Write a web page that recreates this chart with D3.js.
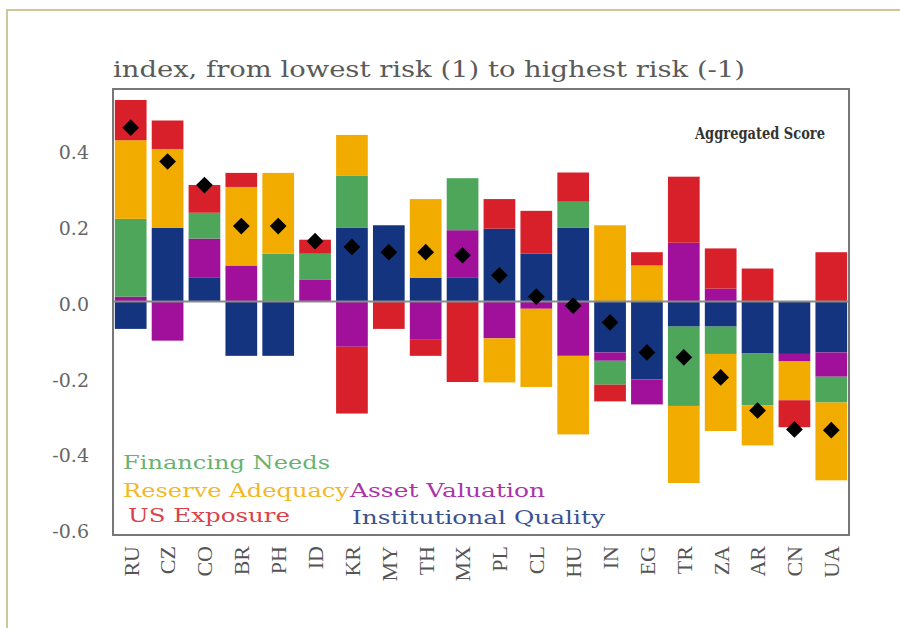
<!DOCTYPE html>
<meta charset="utf-8">
<style>
    body { margin: 0; background: #fff; }
    .tick text { font-family: "DejaVu Serif", serif; fill: #666; }
</style>
<svg width="900" height="628"></svg>
<script src="https://d3js.org/d3.v7.min.js"></script>
<script>

    var countries = ["RU", "CZ", "CO", "BR", "PH", "ID", "KR", "MY", "TH", "MX",
                     "PL", "CL", "HU", "IN", "EG", "TR", "ZA", "AR", "CN", "UA"];

    // component scores, same order as countries
    var institutionalQuality = [-0.072, 0.194, 0.064, -0.143, -0.143, 0, 0.194, 0.201, 0.063, 0.064,
                                0.192, 0.126, 0.194, -0.134, -0.205, -0.066, -0.066, -0.137, -0.138, -0.134];
    var assetValuation = [0.013, -0.103, 0.102, 0.095, 0, 0.057, -0.119, 0, -0.099, 0.124,
                          -0.097, -0.019, -0.143, -0.022, -0.066, 0.155, 0.034, 0, -0.020, -0.064];
    var financingNeeds = [0.205, 0, 0.068, 0, 0.126, 0.069, 0.137, 0, 0, 0.137,
                          0, 0, 0.069, -0.063, 0, -0.209, -0.072, -0.136, 0, -0.068];
    var reserveAdequacy = [0.207, 0.208, 0, 0.207, 0.213, 0, 0.108, 0, 0.207, 0,
                           -0.116, -0.206, -0.207, 0.201, 0.095, -0.203, -0.203, -0.106, -0.102, -0.205];
    var usExposure = [0.106, 0.075, 0.073, 0.037, 0, 0.037, -0.176, -0.072, -0.044, -0.212,
                      0.078, 0.113, 0.077, -0.044, 0.035, 0.174, 0.106, 0.087, -0.071, 0.130];
    var aggregatedScore = [0.458, 0.369, 0.307, 0.199, 0.199, 0.159, 0.144, 0.130, 0.130, 0.122,
                           0.069, 0.013, -0.011, -0.055, -0.134, -0.147, -0.200, -0.287, -0.337, -0.339];

    var yTicks = [0.4, 0.2, 0.0, -0.2, -0.4, -0.6];

    var keys = ["inst", "asset", "fin", "reserve", "us"];
    var colors = {inst: "#15347f", asset: "#a0109a", fin: "#4ea65a", reserve: "#f2ac00", us: "#d7202a"};

    var rows = countries.map(function (c, i) {
        return {
            country: c,
            inst: institutionalQuality[i],
            asset: assetValuation[i],
            fin: financingNeeds[i],
            reserve: reserveAdequacy[i],
            us: usExposure[i],
            score: aggregatedScore[i]
        };
    });

    var svg = d3.select("svg");
    var box = {left: 113, top: 89, right: 849, bottom: 535};

    // outer frame of the picture
    svg.append("path")
        .attr("d", "M7,628 V10 H900")
        .attr("fill", "none")
        .attr("stroke", "#cfc69a")
        .attr("stroke-width", 2);

    var x = d3.scaleBand()
        .domain(countries)
        .range([box.left, box.right])
        .paddingInner(0.14)
        .paddingOuter(0.05);

    var y = d3.scaleLinear()
        .domain([-0.615, 0.56])
        .range([box.bottom, box.top]);

    var series = d3.stack()
        .keys(keys)
        .offset(d3.stackOffsetDiverging)(rows);

    svg.append("g")
        .selectAll("g")
        .data(series)
        .enter().append("g")
        .attr("fill", function (d) { return colors[d.key]; })
        .selectAll("rect")
        .data(function (d) { return d; })
        .enter().append("rect")
        .attr("x", function (d) { return x(d.data.country); })
        .attr("width", x.bandwidth())
        .attr("y", function (d) { return y(Math.max(d[0], d[1])); })
        .attr("height", function (d) { return Math.abs(y(d[0]) - y(d[1])); });

    // zero line
    svg.append("line")
        .attr("x1", box.left).attr("x2", box.right)
        .attr("y1", y(0)).attr("y2", y(0))
        .attr("stroke", "#8a8a8a")
        .attr("stroke-width", 2);

    // plot frame
    svg.append("rect")
        .attr("x", box.left).attr("y", box.top)
        .attr("width", box.right - box.left)
        .attr("height", box.bottom - box.top)
        .attr("fill", "none")
        .attr("stroke", "#777")
        .attr("stroke-width", 2);

    // aggregated score diamonds
    svg.append("g")
        .selectAll("path")
        .data(rows)
        .enter().append("path")
        .attr("d", d3.symbol().type(d3.symbolSquare).size(140))
        .attr("transform", function (d) {
            return "translate(" + (x(d.country) + x.bandwidth() / 2) + "," + y(d.score) + ") rotate(45)";
        })
        .attr("fill", "#000");

    // y axis, plain hyphen for negatives like the original
    var yAxis = svg.append("g")
        .attr("transform", "translate(" + box.left + ",0)")
        .call(d3.axisLeft(y).tickValues(yTicks).tickSize(0).tickPadding(24)
            .tickFormat(function (d) { return d.toFixed(1); }));
    yAxis.select(".domain").remove();
    yAxis.selectAll("text")
        .style("font-size", "19px")
        .attr("dy", "0.45em");

    // x axis labels
    var xAxis = svg.append("g")
        .attr("transform", "translate(0," + box.bottom + ")")
        .call(d3.axisBottom(x).tickSize(0).tickPadding(0));
    xAxis.select(".domain").remove();
    xAxis.selectAll("text")
        .attr("transform", "rotate(-90)")
        .attr("x", -11)
        .attr("y", 0)
        .attr("dy", "0.36em")
        .style("text-anchor", "end")
        .style("font-family", "'Liberation Serif', serif")
        .style("font-size", "22px")
        .style("fill", "#555");

    // title
    svg.append("text")
        .attr("x", 113)
        .attr("y", 77)
        .attr("textLength", 632)
        .attr("lengthAdjust", "spacingAndGlyphs")
        .style("font-family", "'DejaVu Serif', serif")
        .style("font-size", "23px")
        .style("fill", "#5a5a5a")
        .text("index, from lowest risk (1) to highest risk (-1)");

    svg.append("text")
        .attr("x", 695)
        .attr("y", 139)
        .attr("textLength", 130)
        .attr("lengthAdjust", "spacingAndGlyphs")
        .style("font-family", "'DejaVu Serif', serif")
        .style("font-size", "17px")
        .style("font-weight", "bold")
        .style("fill", "#333")
        .text("Aggregated Score");

    // legend labels
    var legend = [
        {label: "Financing Needs", key: "fin", x: 123, y: 469, w: 207},
        {label: "Reserve Adequacy", key: "reserve", x: 123, y: 497, w: 226},
        {label: "Asset Valuation", key: "asset", x: 350, y: 497, w: 195},
        {label: "US Exposure", key: "us", x: 128, y: 522, w: 162},
        {label: "Institutional Quality", key: "inst", x: 352, y: 524, w: 253}
    ];
    svg.append("g")
        .selectAll("text")
        .data(legend)
        .enter().append("text")
        .attr("x", function (d) { return d.x; })
        .attr("y", function (d) { return d.y; })
        .attr("textLength", function (d) { return d.w; })
        .attr("lengthAdjust", "spacingAndGlyphs")
        .style("font-family", "'DejaVu Serif', serif")
        .style("font-size", "19px")
        .style("fill", function (d) { return colors[d.key]; })
        .style("opacity", 0.85)
        .text(function (d) { return d.label; });

</script>
